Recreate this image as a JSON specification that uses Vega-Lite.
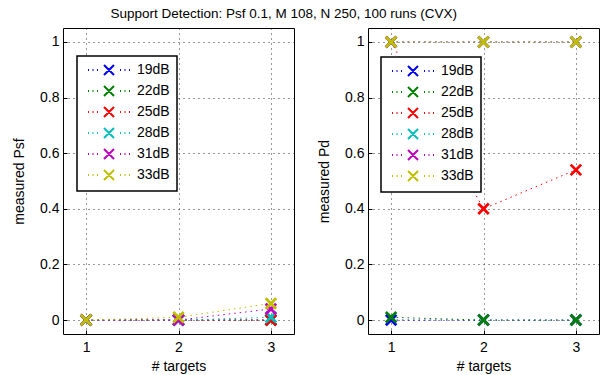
{
  "$schema": "https://vega.github.io/schema/vega-lite/v6.json",
  "background": "white",
  "padding": {"left": 12, "top": 7, "right": 0, "bottom": 0},
  "title": {"text": "Support Detection: Psf 0.1, M 108, N 250, 100 runs (CVX)", "font": "Liberation Sans", "fontSize": 13.5, "fontWeight": "normal", "color": "#000", "anchor": "middle", "dx": -22, "offset": 7},
  "datasets": {
    "psf": [
      {"snr": "19dB", "targets": 1, "value": 0}, {"snr": "19dB", "targets": 2, "value": 0}, {"snr": "19dB", "targets": 3, "value": 0},
      {"snr": "22dB", "targets": 1, "value": 0}, {"snr": "22dB", "targets": 2, "value": 0}, {"snr": "22dB", "targets": 3, "value": 0},
      {"snr": "25dB", "targets": 1, "value": 0}, {"snr": "25dB", "targets": 2, "value": 0}, {"snr": "25dB", "targets": 3, "value": 0},
      {"snr": "28dB", "targets": 1, "value": 0}, {"snr": "28dB", "targets": 2, "value": 0}, {"snr": "28dB", "targets": 3, "value": 0.01},
      {"snr": "31dB", "targets": 1, "value": 0}, {"snr": "31dB", "targets": 2, "value": 0}, {"snr": "31dB", "targets": 3, "value": 0.04},
      {"snr": "33dB", "targets": 1, "value": 0}, {"snr": "33dB", "targets": 2, "value": 0.01}, {"snr": "33dB", "targets": 3, "value": 0.06}
    ],
    "pd": [
      {"snr": "19dB", "targets": 1, "value": 0}, {"snr": "19dB", "targets": 2, "value": 0}, {"snr": "19dB", "targets": 3, "value": 0},
      {"snr": "22dB", "targets": 1, "value": 0.01}, {"snr": "22dB", "targets": 2, "value": 0}, {"snr": "22dB", "targets": 3, "value": 0},
      {"snr": "25dB", "targets": 1, "value": 1}, {"snr": "25dB", "targets": 2, "value": 0.4}, {"snr": "25dB", "targets": 3, "value": 0.54},
      {"snr": "28dB", "targets": 1, "value": 1}, {"snr": "28dB", "targets": 2, "value": 1}, {"snr": "28dB", "targets": 3, "value": 1},
      {"snr": "31dB", "targets": 1, "value": 1}, {"snr": "31dB", "targets": 2, "value": 1}, {"snr": "31dB", "targets": 3, "value": 1},
      {"snr": "33dB", "targets": 1, "value": 1}, {"snr": "33dB", "targets": 2, "value": 1}, {"snr": "33dB", "targets": 3, "value": 1}
    ]
  },
  "hconcat": [
    {
      "width": 231, "height": 306,
      "data": {"name": "psf"},
      "encoding": {
        "x": {"field": "targets", "type": "quantitative", "scale": {"domain": [0.75, 3.25], "nice": false, "zero": false}, "axis": {"values": [1, 2, 3], "title": "# targets", "labelPadding": 10, "titlePadding": 5}},
        "y": {"field": "value", "type": "quantitative", "scale": {"domain": [-0.05, 1.05], "nice": false, "zero": false}, "axis": {"values": [0, 0.2, 0.4, 0.6, 0.8, 1], "title": "measured Psf"}},
        "color": {"field": "snr", "type": "nominal", "scale": {"domain": ["19dB", "22dB", "25dB", "28dB", "31dB", "33dB"], "range": ["#0000ff", "#008000", "#ff0000", "#00bfbf", "#bf00bf", "#bfbf00"]},
          "legend": {"orient": "none", "legendX": 14, "legendY": 28}}
      },
      "layer": [
        {"mark": {"type": "line", "strokeWidth": 1, "strokeDash": [1.5, 4]}},
        {"mark": {"type": "point", "shape": "M-1,-1L1,1M-1,1L1,-1", "filled": false, "size": 110, "strokeWidth": 2.8, "opacity": 1}}
      ]
    },
    {
      "width": 231, "height": 306,
      "data": {"name": "pd"},
      "encoding": {
        "x": {"field": "targets", "type": "quantitative", "scale": {"domain": [0.75, 3.25], "nice": false, "zero": false}, "axis": {"values": [1, 2, 3], "title": "# targets", "labelPadding": 10, "titlePadding": 5}},
        "y": {"field": "value", "type": "quantitative", "scale": {"domain": [-0.05, 1.05], "nice": false, "zero": false}, "axis": {"values": [0, 0.2, 0.4, 0.6, 0.8, 1], "title": "measured Pd"}},
        "color": {"field": "snr", "type": "nominal", "scale": {"domain": ["19dB", "22dB", "25dB", "28dB", "31dB", "33dB"], "range": ["#0000ff", "#008000", "#ff0000", "#00bfbf", "#bf00bf", "#bfbf00"]},
          "legend": {"orient": "none", "legendX": 13, "legendY": 29}}
      },
      "layer": [
        {"mark": {"type": "line", "strokeWidth": 1, "strokeDash": [1.5, 4]}},
        {"mark": {"type": "point", "shape": "M-1,-1L1,1M-1,1L1,-1", "filled": false, "size": 110, "strokeWidth": 2.8, "opacity": 1}}
      ]
    }
  ],
  "spacing": 74,
  "bounds": "flush",
  "resolve": {"scale": {"color": "independent"}, "legend": {"color": "independent"}},
  "config": {
    "font": "Liberation Sans",
    "view": {"stroke": "#000", "strokeWidth": 1},
    "axis": {
      "domain": false, "grid": true, "gridColor": "#000", "gridDash": [1, 4], "gridOpacity": 0.8, "gridWidth": 1,
      "ticks": true, "tickSize": -4, "tickColor": "#000", "labelPadding": 8,
      "format": "~g",
      "labelFont": "Liberation Sans", "labelFontSize": 14, "labelColor": "#000",
      "titleFont": "Liberation Sans", "titleFontSize": 14, "titleFontWeight": "normal", "titleColor": "#000", "titlePadding": 13
    },
    "legend": {
      "title": null, "padding": 7, "strokeColor": "#000", "fillColor": "#fff", "cornerRadius": 0, "strokeWidth": 1.5,
      "labelFont": "Liberation Sans", "labelFontSize": 14, "labelColor": "#000",
      "symbolType": "M-1,-1L1,1M-1,1L1,-1M-4.2,0h0.2M-3.3,0h0.2M-2.4,0h0.2M2.2,0h0.2M3.1,0h0.2M4,0h0.2",
      "symbolSize": 100, "symbolStrokeWidth": 2, "symbolOffset": 18, "labelOffset": 21, "rowPadding": 3, "columnPadding": 0,
      "symbolFillColor": "transparent", "symbolDash": []
    }
  }
}
